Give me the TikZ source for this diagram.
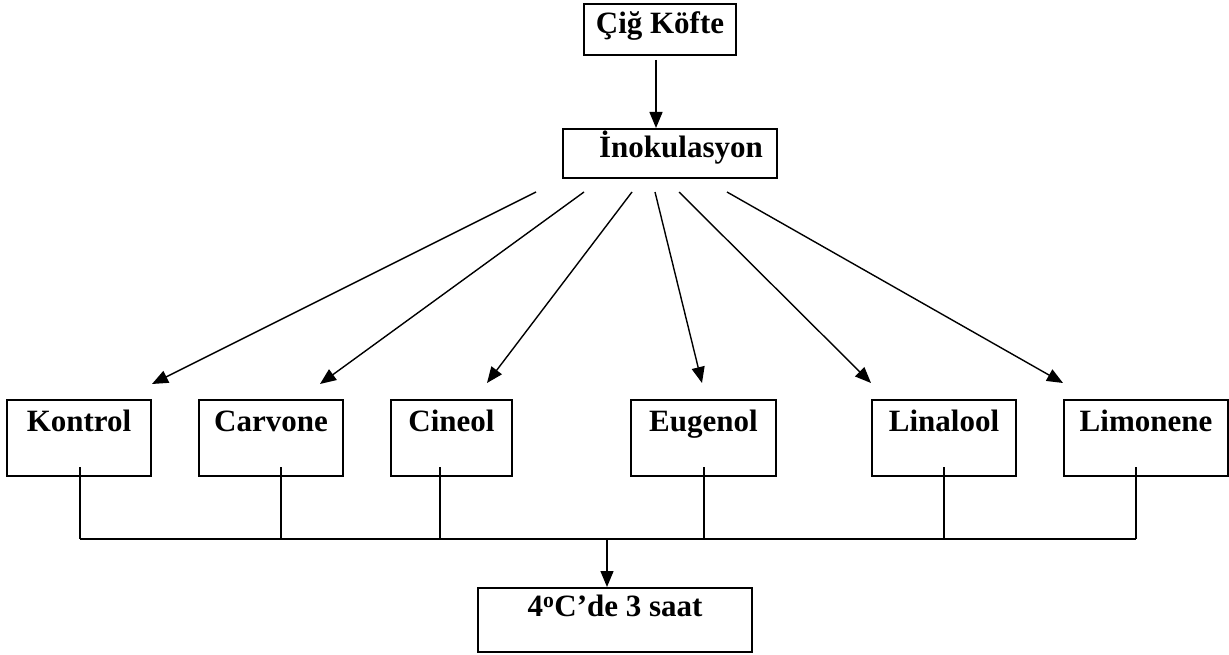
\documentclass[tikz,border=0pt]{standalone}
\usepackage{fontspec}
\setmainfont{Liberation Serif}
\usetikzlibrary{arrows.meta}

\begin{document}
\begin{tikzpicture}[x=1pt,y=-1pt,
  kutu/.style={draw,line width=1.8pt,inner sep=0pt,anchor=north,font=\fontsize{31}{36}\selectfont\bfseries},
  alt/.style={kutu,text height=32pt,text depth=44pt},
  ok/.style={line width=1.4pt,-{Triangle[length=16pt,width=13pt]}},
  hat/.style={line width=1.4pt}]
 \useasboundingbox (0,0) rectangle (1229,655);
 % kutular
 \node[kutu,minimum width=152pt,text height=30pt,text depth=21pt] (cig) at (660,3) {Çiğ Köfte};
 \node[kutu,minimum width=214pt,text height=29pt,text depth=20pt] (ino) at (670,128) {\hspace*{22pt}İnokulasyon};
 \node[alt,minimum width=144pt] (kon) at (79,399) {Kontrol};
  \node[alt,minimum width=144pt] (car) at (271,399) {Carvone};
   \node[alt,minimum width=121pt] (cin) at (451.5,399) {Cineol};
    \node[alt,minimum width=145pt] (eug) at (703.5,399) {Eugenol};
     \node[alt,minimum width=144pt] (lin) at (944,399) {Linalool};
      \node[alt,minimum width=164pt] (lim) at (1146,399) {Limonene};
 \node[kutu,minimum width=274pt,text height=29pt,text depth=35pt] (son) at (615,587) {4\textsuperscript{o}C’de 3 saat};
 % oklar
 \coordinate (t) at (656,60);
 \draw[ok] (t) -- (t |- ino.north);
 \coordinate (a1) at (536,192); \coordinate (b1) at (152,384);
  \coordinate (a2) at (584,192); \coordinate (b2) at (320,384);
   \coordinate (a3) at (632,192); \coordinate (b3) at (487,383);
    \coordinate (a4) at (655,192); \coordinate (b4) at (702,383);
     \coordinate (a5) at (679,192); \coordinate (b5) at (871,383);
      \coordinate (a6) at (727,192); \coordinate (b6) at (1063,383);
 \draw[ok] (a1) -- (b1);
  \draw[ok] (a2) -- (b2);
   \draw[ok] (a3) -- (b3);
    \draw[ok] (a4) -- (b4);
     \draw[ok] (a5) -- (b5);
      \draw[ok] (a6) -- (b6);
 % alt baglanti
 \coordinate (hl) at (80,539); \coordinate (hr) at (1136,539);
 \draw[hat] (hl) -- (hr);
 \coordinate (u1) at (80,467);
  \coordinate (u2) at (281,467);
   \coordinate (u3) at (440,467);
    \coordinate (u4) at (704,467);
     \coordinate (u5) at (944,467);
      \coordinate (u6) at (1136,467);
 \draw[hat] (u1) -- (u1 |- hl);
  \draw[hat] (u2) -- (u2 |- hl);
   \draw[hat] (u3) -- (u3 |- hl);
    \draw[hat] (u4) -- (u4 |- hl);
     \draw[hat] (u5) -- (u5 |- hl);
      \draw[hat] (u6) -- (u6 |- hl);
 \coordinate (m) at (607,539);
 \draw[ok] (m) -- (m |- son.north);
\end{tikzpicture}
\end{document}
